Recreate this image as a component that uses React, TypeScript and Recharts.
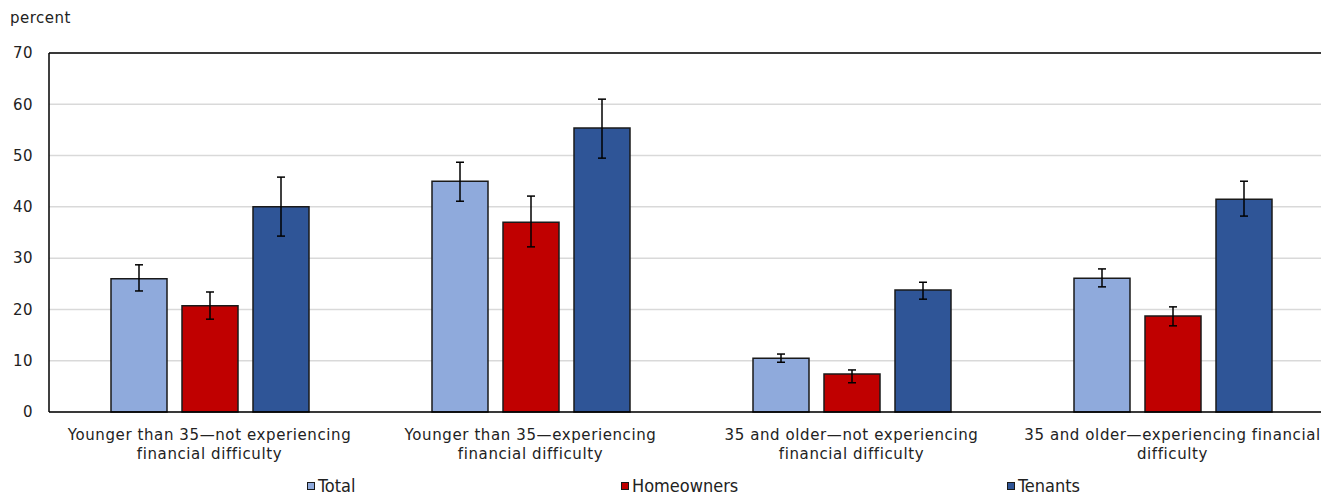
import { BarChart, Bar, XAxis, YAxis, CartesianGrid, ErrorBar, ReferenceLine } from 'recharts';

const categories = [
  'Younger than 35—not experiencing financial difficulty',
  'Younger than 35—experiencing financial difficulty',
  '35 and older—not experiencing financial difficulty',
  '35 and older—experiencing financial difficulty',
];

const total = [26.0, 45.0, 10.5, 26.1];
const totalLow = [23.6, 41.1, 9.7, 24.4];
const totalHigh = [28.7, 48.7, 11.3, 27.9];

const homeowners = [20.7, 37.0, 7.4, 18.7];
const homeownersLow = [18.1, 32.2, 5.7, 16.8];
const homeownersHigh = [23.4, 42.1, 8.2, 20.5];

const tenants = [40.0, 55.4, 23.8, 41.5];
const tenantsLow = [34.3, 49.5, 22.0, 38.2];
const tenantsHigh = [45.8, 61.0, 25.3, 45.0];

const yTicks = [0, 10, 20, 30, 40, 50, 60, 70];

const series = [
  { key: 'total', name: 'Total', color: '#8FAADC' },
  { key: 'homeowners', name: 'Homeowners', color: '#C00000' },
  { key: 'tenants', name: 'Tenants', color: '#2F5597' },
];

const data = categories.map((name, i) => ({
  name,
  total: total[i],
  totalErr: [total[i] - totalLow[i], totalHigh[i] - total[i]],
  homeowners: homeowners[i],
  homeownersErr: [homeowners[i] - homeownersLow[i], homeownersHigh[i] - homeowners[i]],
  tenants: tenants[i],
  tenantsErr: [tenants[i] - tenantsLow[i], tenantsHigh[i] - tenants[i]],
}));

const FONT = '"DejaVu Sans", Verdana, sans-serif';

// split a label into lines of at most maxChars
const wrap = (label: string, maxChars = 35) => {
  const words = label.split(' ');
  const lines: string[] = [];
  let cur = '';
  words.forEach((w) => {
    const next = cur ? cur + ' ' + w : w;
    if (next.length > maxChars && cur) {
      lines.push(cur);
      cur = w;
    } else {
      cur = next;
    }
  });
  if (cur) lines.push(cur);
  return lines;
};

const CategoryTick = (props: any) => {
  const { x, y, payload } = props;
  const lines = wrap(payload.value);
  return (
    <text
      x={x}
      y={y}
      textAnchor="middle"
      fontFamily={FONT}
      fontSize={15}
      letterSpacing={0.6}
      fill="#222"
    >
      {lines.map((line, i) => (
        <tspan key={i} x={x} dy={i === 0 ? 26 : 19}>
          {line}
        </tspan>
      ))}
    </text>
  );
};

const legendOffsets = [307, 621, 1007];

const App = () => {
  return (
    <div
      style={{
        position: 'absolute',
        left: 0,
        top: 0,
        width: 1321,
        height: 495,
        overflow: 'hidden',
        background: '#fff',
      }}
    >
      <div
        style={{
          position: 'absolute',
          left: 10,
          top: 9,
          fontFamily: FONT,
          fontSize: 15,
          letterSpacing: 0.5,
          color: '#222',
        }}
      >
        percent
      </div>
      <BarChart
        width={1340}
        height={495}
        data={data}
        margin={{ top: 53, right: 7, left: 0, bottom: 0 }}
        barSize={56}
        barGap={15}
      >
        <CartesianGrid vertical={false} stroke="#d9d9d9" strokeWidth={1.5} />
        <XAxis
          dataKey="name"
          height={83}
          tickLine={false}
          tickSize={0}
          axisLine={{ stroke: '#000', strokeWidth: 1.5 }}
          tick={<CategoryTick />}
          interval={0}
        />
        <YAxis
          width={49}
          domain={[0, 70]}
          ticks={yTicks}
          tickLine={false}
          tickSize={0}
          tickMargin={16}
          axisLine={{ stroke: '#000', strokeWidth: 1.5 }}
          tick={{ fontFamily: FONT, fontSize: 15, letterSpacing: 0.5, fill: '#222' }}
        />
        <ReferenceLine y={70} stroke="#000" strokeWidth={1.5} />
        {series.map((s) => (
          <Bar
            key={s.key}
            dataKey={s.key}
            name={s.name}
            fill={s.color}
            stroke="#1a1a1a"
            strokeWidth={1.5}
            isAnimationActive={false}
          >
            <ErrorBar dataKey={s.key + 'Err'} width={4} stroke="#000" strokeWidth={1.5} direction="y" />
          </Bar>
        ))}
      </BarChart>
      {series.map((s, i) => (
        <div
          key={s.key}
          style={{
            position: 'absolute',
            left: legendOffsets[i],
            top: 477,
            height: 18,
            display: 'flex',
            alignItems: 'center',
            fontFamily: '"DejaVu Sans Condensed", "DejaVu Sans", sans-serif',
            fontSize: 18,
            lineHeight: '18px',
            color: '#222',
            whiteSpace: 'nowrap',
          }}
        >
          <span
            style={{
              display: 'inline-block',
              width: 6,
              height: 6,
              background: s.color,
              border: '1px solid #1a1a1a',
              marginRight: 3,
            }}
          />
          {s.name}
        </div>
      ))}
    </div>
  );
};

export default App;
